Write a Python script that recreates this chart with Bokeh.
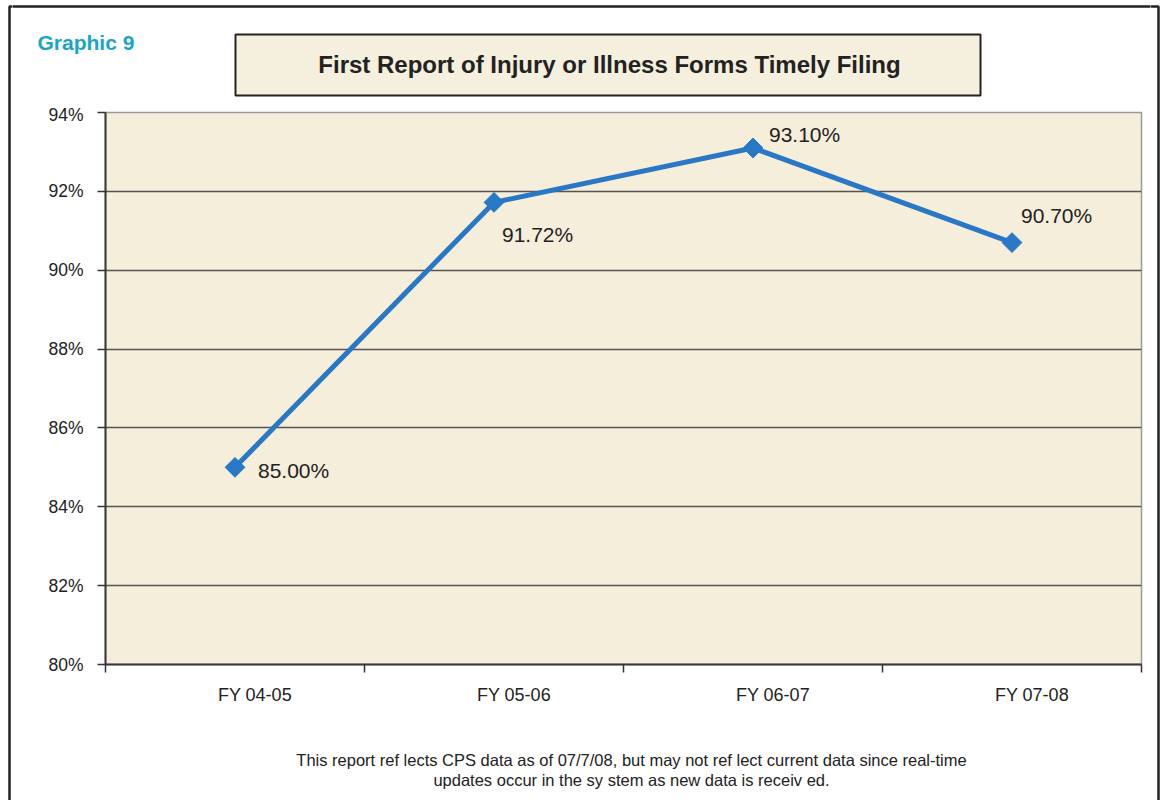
from bokeh.plotting import figure
from bokeh.layouts import column, row
from bokeh.models import Range1d, FixedTicker, Label, BoxAnnotation, PrintfTickFormatter
from bokeh.embed import file_html
from bokeh.resources import INLINE

# ---------------- data ----------------
categories = ["FY 04-05", "FY 05-06", "FY 06-07", "FY 07-08"]
rates = [85.00, 91.72, 93.10, 90.70]
rate_labels = ["85.00%", "91.72%", "93.10%", "90.70%"]
y_ticks = [80, 82, 84, 86, 88, 90, 92, 94]

title_text = "First Report of Injury or Illness Forms Timely Filing"
graphic_text = "Graphic 9"
note_lines = [
    "This report ref lects CPS data as of 07/7/08, but may not ref lect current data since real-time",
    "updates occur in the sy stem as new data is receiv ed.",
]

# ---------------- layout / style ----------------
W, H = 1162, 800
TOP_H = 104          # header strip height
MID_H = 610          # chart strip height
BOT_H = H - TOP_H - MID_H
SIDE_W = 12
INNER_W = W - 2 * SIDE_W
FONT = "Liberation Sans"
DARK = "#222222"
LINE_COLOR = "#2878C5"
BG = "#F5EEDB"
BORDER_W = 2.5
label_offsets = [(23, -3), (8, -32), (16, 13), (9, 27)]
x_label_shift = 0.077   # Excel-style category labels sit slightly right of centre


def blank(width, height, xr, yr, free_frame=False):
    f = figure(width=width, height=height, output_backend="svg", toolbar_location=None,
               x_range=xr, y_range=yr, x_axis_type=None, y_axis_type=None, min_border=0)
    if free_frame:
        f.frame_align = False
    f.outline_line_color = None
    f.grid.visible = False
    f.background_fill_color = "white"
    f.border_fill_color = "white"
    return f


def outer_border(f):
    # the page frame: left 9, right 1158, top 6, open at the bottom
    f.add_layout(BoxAnnotation(left=9, right=1158, top=6, bottom=H + 100,
                               fill_alpha=0, line_color=DARK, line_alpha=1,
                               line_width=BORDER_W))


# ---------------- side strips (full height) ----------------
left_strip = blank(SIDE_W, H, Range1d(0, SIDE_W), Range1d(H, 0))
outer_border(left_strip)
right_strip = blank(SIDE_W, H, Range1d(W - SIDE_W, W), Range1d(H, 0))
outer_border(right_strip)

# ---------------- header ----------------
top = blank(INNER_W, TOP_H, Range1d(SIDE_W, W - SIDE_W), Range1d(TOP_H, 0), free_frame=True)
outer_border(top)
top.add_layout(BoxAnnotation(left=235, right=980, top=34, bottom=95,
                             fill_color="#F5EFDD", fill_alpha=1,
                             line_color=DARK, line_alpha=1, line_width=2))
top.add_layout(Label(x=609, y=64, text=title_text, text_font=FONT,
                     text_font_style="bold", text_font_size="24px", text_color=DARK,
                     text_align="center", text_baseline="middle"))
top.add_layout(Label(x=37, y=42, text=graphic_text, text_font=FONT,
                     text_font_style="bold", text_font_size="21px", text_color="#1AA5C6",
                     text_align="left", text_baseline="middle"))

# ---------------- chart ----------------
p = figure(width=INNER_W, height=MID_H, output_backend="svg", toolbar_location=None,
           x_range=Range1d(0, len(categories)), y_range=Range1d(y_ticks[0], y_ticks[-1]),
           min_border_left=105 - SIDE_W, min_border_right=(W - SIDE_W) - 1141,
           min_border_top=112 - TOP_H, min_border_bottom=(TOP_H + MID_H) - 664)

p.background_fill_color = BG
p.border_fill_color = "white"
p.outline_line_color = "#9a9a9a"
p.outline_line_width = 1.5

xs = [i + 0.5 for i in range(len(categories))]
label_ticks = [x + x_label_shift for x in xs]

p.xaxis.ticker = FixedTicker(ticks=label_ticks, minor_ticks=list(range(len(categories) + 1)))
p.xaxis.major_label_overrides = {t: c for t, c in zip(label_ticks, categories)}
p.xaxis.major_tick_in = 0
p.xaxis.major_tick_out = 0
p.xaxis.minor_tick_in = 0
p.xaxis.minor_tick_out = 8
p.xaxis.minor_tick_line_color = "#333333"
p.xaxis.minor_tick_line_width = 1.5
p.xaxis.axis_line_color = "#3a3a3a"
p.xaxis.axis_line_width = 2
p.xaxis.major_label_standoff = 12
p.xaxis.major_label_text_font = FONT
p.xaxis.major_label_text_font_size = "18px"
p.xaxis.major_label_text_color = DARK

p.yaxis.ticker = FixedTicker(ticks=y_ticks, minor_ticks=[])
p.yaxis.formatter = PrintfTickFormatter(format="%d%%")
p.yaxis.major_tick_in = 0
p.yaxis.major_tick_out = 8
p.yaxis.major_tick_line_color = "#333333"
p.yaxis.major_tick_line_width = 1.5
p.yaxis.axis_line_color = "#3a3a3a"
p.yaxis.axis_line_width = 2
p.yaxis.major_label_standoff = 14
p.yaxis.major_label_text_font = FONT
p.yaxis.major_label_text_font_size = "17.5px"
p.yaxis.major_label_text_color = DARK

p.xgrid.visible = False
p.ygrid.ticker = FixedTicker(ticks=y_ticks)
p.ygrid.grid_line_color = "#555555"
p.ygrid.grid_line_width = 1.3

p.line(xs, rates, line_color=LINE_COLOR, line_width=5)
p.scatter(xs, rates, marker="square", size=14, angle=45, angle_units="deg",
          fill_color=LINE_COLOR, line_color=LINE_COLOR)

for x, r, t, (dx, dy) in zip(xs, rates, rate_labels, label_offsets):
    p.add_layout(Label(x=x, y=r, text=t, x_offset=dx, y_offset=dy,
                       text_font=FONT, text_font_size="21px", text_color=DARK,
                       text_align="left", text_baseline="middle"))

# ---------------- footer ----------------
y0 = TOP_H + MID_H
bottom = blank(INNER_W, BOT_H, Range1d(SIDE_W, W - SIDE_W), Range1d(H, y0), free_frame=True)
for i, line in enumerate(note_lines):
    bottom.add_layout(Label(x=631, y=759 + 20 * i, text=line, text_font=FONT,
                            text_font_size="16.5px", text_color=DARK,
                            text_align="center", text_baseline="middle"))

layout = row(left_strip, column(top, p, bottom, spacing=0), right_strip, spacing=0)

open("out.html", "w").write(file_html(layout, INLINE))
